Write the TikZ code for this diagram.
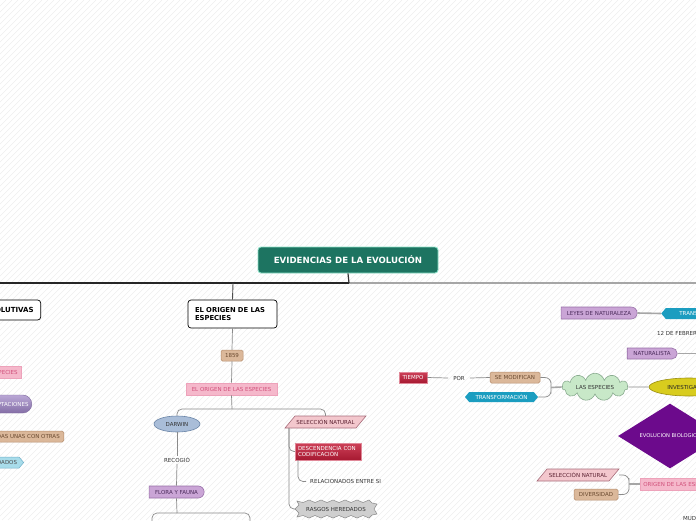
\documentclass[tikz,border=0pt]{standalone}
\usepackage{fontspec}
\setmainfont{DejaVu Sans}
\usetikzlibrary{shapes.geometric,shapes.misc,shapes.symbols,calc}
\definecolor{tealf}{HTML}{1D7461}
\definecolor{mint}{HTML}{8EE0C8}
\definecolor{pinkf}{HTML}{F5B8CB}
\definecolor{pinkd}{HTML}{EDA2BA}
\definecolor{pinkt}{HTML}{D0507A}
\definecolor{tanf}{HTML}{DBB89A}
\definecolor{tand}{HTML}{B48C6C}
\definecolor{tant}{HTML}{6A4A30}
\definecolor{lavf}{HTML}{CAA5D6}
\definecolor{lavd}{HTML}{9870A8}
\definecolor{lavt}{HTML}{4A2A5A}
\definecolor{redf}{HTML}{C41E3A}
\definecolor{redd}{HTML}{E08898}
\definecolor{cyanf}{HTML}{1B9DC0}
\definecolor{lcyanf}{HTML}{A8DCEA}
\definecolor{lcyand}{HTML}{70B0C8}
\definecolor{self}{HTML}{F3C7CD}
\definecolor{seld}{HTML}{A86E7C}
\definecolor{selt}{HTML}{5A2030}
\definecolor{greenf}{HTML}{C8E8C8}
\definecolor{greend}{HTML}{8AAC90}
\definecolor{yelf}{HTML}{D8CC1E}
\definecolor{yeld}{HTML}{9A8E10}
\definecolor{purpf}{HTML}{6C0A8C}
\definecolor{darf}{HTML}{A9BDD8}
\definecolor{dard}{HTML}{6C86A8}
\definecolor{grayf}{HTML}{CFCFCF}
\definecolor{grayd}{HTML}{8A8A8A}
\definecolor{cylf}{HTML}{9C82C4}
\definecolor{linegray}{HTML}{8A8A8A}
\newcommand{\paranode}[6]{%
  \filldraw[fill=self, draw=seld, line width=0.6pt] (#2-#4/2+10,#3-#5/2) -- (#2+#4/2,#3-#5/2) -- (#2+#4/2-10,#3+#5/2) -- (#2-#4/2,#3+#5/2) -- cycle;
  \node[text=selt, minimum width=#4pt, minimum height=#5pt] (#1) at (#2,#3) {#6};
}
\begin{document}
\begin{tikzpicture}[x=1pt,y=-1pt,
  every node/.style={font=\fontsize{5.5}{6.3}\selectfont, inner sep=1pt},
  conn/.style={draw=linegray, line width=0.7pt},
  thickconn/.style={draw=gray!70, line width=1.6pt},
  darkconn/.style={draw=black!80, line width=1.2pt},
  hatch/.style={draw=black!8, line width=0.35pt},
  titlebox/.style={draw=mint, fill=tealf, rounded corners=3pt, line width=0.9pt, text=white, font=\fontsize{8.6}{10}\selectfont\bfseries, minimum width=180pt, minimum height=26pt},
  hdr/.style={draw=black, fill=white, rounded corners=3pt, line width=0.7pt, font=\fontsize{7}{8.4}\selectfont\bfseries, inner xsep=7pt},
  tanbox/.style={draw=tand, fill=tanf, text=tant, rounded corners=1.5pt, line width=0.5pt, minimum height=11pt, inner xsep=4pt},
  pinkbox/.style={draw=pinkd, fill=pinkf, text=pinkt, line width=0.6pt, minimum height=12pt, inner xsep=4pt},
  lavpill/.style={rounded rectangle, rounded rectangle left arc=none, draw=lavd, fill=lavf, text=lavt, line width=0.6pt},
  redbox/.style={draw=redd, top color=redf!85!white, bottom color=redf!85!black, text=white, line width=0.5pt},
  cyansig/.style={signal, signal pointer angle=100, fill=cyanf, text=white, inner sep=1pt},
  plain/.style={text=black!80, inner xsep=4pt}
]
\useasboundingbox (0,0) rectangle (696,520);
\clip (0,0) rectangle (696,520);
\fill[white] (0,0) rectangle (696,520);
\foreach \i in {-520,-514,...,696} \draw[hatch] (\i,520) -- (\i+520,0);

% main title and top bar
\node[titlebox] (ev) at (348,260) {EVIDENCIAS DE LA EVOLUCIÓN};
\coordinate (hub) at (349,283);
\coordinate (barl) at (-5,283);
\coordinate (barr) at (701,283);
\draw[line width=1.5pt, black!85] (barl) -- (hub);
\draw[line width=1.5pt, gray!70] (hub) -- (barr);
\draw[darkconn] (ev.south) -- (hub);

% left column header (clipped)
\node[hdr, anchor=east, minimum height=20pt] (evol) at (41,310) {PRUEBAS EVOLUTIVAS};

% middle branch
\node[hdr, minimum height=28pt, text width=75pt, align=left, font=\fontsize{6.8}{8.2}\selectfont\bfseries] (orig) at (232.5,314) {EL ORIGEN DE LAS\\ESPECIES};
\coordinate (j1) at (233,283);
\draw[draw=black!70, line width=0.9pt] (j1) -- (orig.north);
\node[tanbox, minimum width=22pt, inner xsep=1pt] (y1859) at (232,355.5) {1859};
\draw[conn] (orig.south) -- (y1859.north);
\node[pinkbox, minimum width=91pt] (eo) at (231.5,389) {EL ORIGEN DE LAS ESPECIES};
\draw[conn] (y1859.south) -- (eo.north);
\node[ellipse, draw=dard, fill=darf, text=black!80, line width=0.6pt, minimum width=46pt, minimum height=16pt, inner sep=0pt] (dar) at (177,424) {DARWIN};
\paranode{sel}{325.5}{422}{81}{12}{SELECCIÓN NATURAL}
\coordinate (b1) at (232,409);
\draw[conn] (eo.south) -- (b1);
\draw[conn, rounded corners=5pt] (dar.north) |- (b1) -| (sel.north);

\node[plain] (rec) at (177,460) {RECOGIÓ};
\node[lavpill, minimum width=57pt, minimum height=12pt] (flora) at (176.5,492) {FLORA Y FAUNA};
\draw[conn] (dar.south) -- (rec.north);
\draw[conn] (rec.south) -- (flora.north);
\coordinate (b2) at (177,513);
\coordinate (b2l) at (152,526);
\coordinate (b2r) at (250,526);
\draw[conn] (flora.south) -- (b2);
\draw[conn, rounded corners=5pt] (b2l) |- (b2) -| (b2r);

\node[redbox, minimum width=66pt, minimum height=17pt, text width=60pt, align=left, inner xsep=3pt, font=\fontsize{5.5}{6}\selectfont] (desc) at (328,451.5) {DESCENDENCIA CON\\CODIFICACIÓN};
\filldraw[fill=grayf, draw=grayd, line width=0.5pt] (295,509) -- (299,505) -- (297,501) -- (303,502.5) -- (309,500) -- (315,502.5) -- (321,500) -- (327,502.5) -- (333,500) -- (339,502.5) -- (345,500) -- (351,502.5) -- (357,500) -- (363,502.5) -- (369,500) -- (372,503) -- (377,504) -- (374,509) -- (377,514) -- (372,515) -- (369,518) -- (363,515.5) -- (357,518) -- (351,515.5) -- (345,518) -- (339,515.5) -- (333,518) -- (327,515.5) -- (321,518) -- (315,515.5) -- (309,518) -- (303,515.5) -- (297,517) -- (299,513) -- cycle;
\node[text=black!80, minimum width=82pt, minimum height=18pt] (ras) at (336,509) {RASGOS HEREDADOS};
\coordinate (s1) at (289,428);
\draw[conn, rounded corners=5pt] (s1) |- (desc.west);
\draw[conn, rounded corners=5pt] (s1) |- (ras.west);
\node[plain, anchor=west] (rel) at (306,481.5) {RELACIONADOS ENTRE SI};
\coordinate (d1) at (298,460);
\draw[conn, rounded corners=5pt] (d1) |- (rel.west);

% left column (clipped nodes)
\node[pinkbox, anchor=east] (le1) at (22,372) {ORIGEN DE LAS ESPECIES};
\node[rounded rectangle, anchor=east, top color=cylf!70!white, bottom color=cylf!85!black, draw=cylf!80!black, line width=0.4pt, text=white, minimum height=18pt, inner xsep=3pt] (le2) at (32,404) {ADAPTACIONES};
\node[tanbox, anchor=east] (le3) at (64,436.5) {RELACIONADAS UNAS CON OTRAS};
\node[signal, signal to=east, signal pointer angle=100, fill=lcyanf, draw=lcyand, line width=0.5pt, text=black!70, anchor=east, minimum height=11pt, inner xsep=2pt] (le4) at (24,462.5) {HEREDADOS};

% right side
\node[lavpill, minimum width=78pt, minimum height=12pt] (leyes) at (599,313) {LEYES DE NATURALEZA};
\node[cyansig, signal to=west, anchor=west, minimum width=80pt, minimum height=11pt] (trf) at (661,313.5) {TRANSFORMISMO};
\draw[thickconn] (leyes.east) -- (trf.west);
\node[plain, anchor=west] (feb) at (653,333) {12 DE FEBRERO DE 1809};
\node[lavpill, minimum width=52pt, minimum height=11pt] (nat) at (652,353.5) {NATURALISTA};
\coordinate (natr) at (701,353.5);
\draw[thickconn] (nat.east) -- (natr);

\node[redbox, minimum width=28pt, minimum height=11pt] (tiempo) at (413,377.5) {TIEMPO};
\node[plain, inner xsep=5pt] (por) at (459,378) {POR};
\node[tanbox, minimum width=50pt] (semod) at (515,377.5) {SE MODIFICAN};
\draw[conn] (tiempo.east) -- (por.west);
\draw[conn] (por.east) -- (semod.west);
\node[cyansig, signal to=west and east, minimum width=73pt, minimum height=10pt] (transf) at (501.5,397) {TRANSFORMACIÓN};
\coordinate (br1) at (551,387.5);
\draw[conn, rounded corners=6pt] (semod.east) -| (br1) |- (transf.east);
\node[cloud, cloud puffs=11, aspect=3.3, draw=greend, fill=greenf, text=black!80, line width=0.6pt, minimum width=66pt, minimum height=20pt, inner sep=0pt] (esp) at (595,387) {LAS ESPECIES};
\draw[thickconn] (br1) -- (esp.west);
\node[ellipse, draw=yeld, fill=yelf, text=black!85, line width=0.6pt, minimum width=80pt, minimum height=18pt, inner sep=0pt] (inv) at (689,387) {INVESTIGACIÓN};
\draw[conn] (esp.east) -- (inv.west);

\node[diamond, fill=purpf, text=white, minimum width=104pt, minimum height=42pt, inner sep=0pt, font=\fontsize{5.2}{6}\selectfont] (evb) at (670,436) {EVOLUCION BIOLOGICA};

\paranode{sel2}{578}{475}{82}{12}{SELECCIÓN NATURAL}
\node[tanbox, minimum width=44pt] (div) at (596,494.5) {DIVERSIDAD};
\node[pinkbox, anchor=west, inner xsep=3pt] (oe2) at (640,484) {ORIGEN DE LAS ESPECIES};
\coordinate (br2) at (629,484);
\draw[conn, rounded corners=6pt] (sel2.east) -| (br2) |- (div.east);
\draw[thickconn] (br2) -- (oe2.west);
\node[plain, anchor=west, inner xsep=0pt] (mud) at (683,519) {MUDANZA};
\end{tikzpicture}
\end{document}
